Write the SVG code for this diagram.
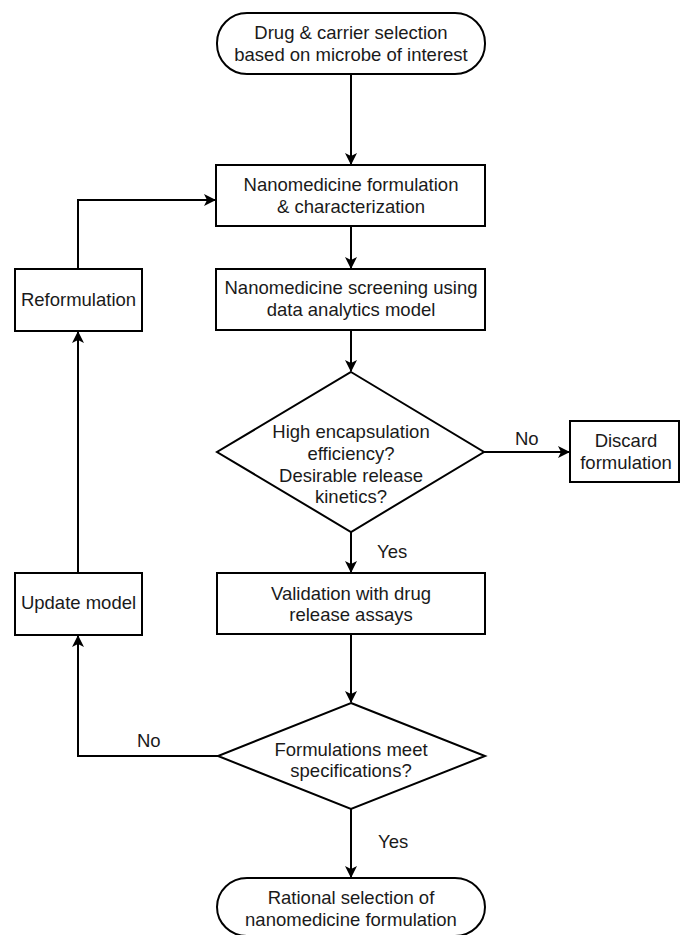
<svg xmlns="http://www.w3.org/2000/svg" width="681" height="935" viewBox="0 0 681 935">
<style>
.shape{fill:#fff;stroke:#000;stroke-width:2}
.t{font-family:"Liberation Sans",Arial,sans-serif;font-size:18.5px;fill:#1a1a1a;text-anchor:middle}
.lbl{font-family:"Liberation Sans",Arial,sans-serif;font-size:18.5px;fill:#1a1a1a}
.c{fill:none;stroke:#000;stroke-width:2}
</style>
<defs>
<marker id="arr" viewBox="0 0 12 12" refX="11" refY="6" markerWidth="12" markerHeight="12" markerUnits="userSpaceOnUse" orient="auto">
<path d="M0,0 L12,6 L0,12 L3,6 z" fill="#000"/>
</marker>
</defs>
<rect width="681" height="935" fill="#fff"/>
<g id="connectors">
<line class="c" x1="351" y1="74" x2="351" y2="164" marker-end="url(#arr)"/>
<line class="c" x1="351" y1="226" x2="351" y2="268" marker-end="url(#arr)"/>
<line class="c" x1="351" y1="330" x2="351" y2="371" marker-end="url(#arr)"/>
<line class="c" x1="351" y1="532" x2="351" y2="572" marker-end="url(#arr)"/>
<line class="c" x1="483" y1="452" x2="569" y2="452" marker-end="url(#arr)"/>
<line class="c" x1="351" y1="634" x2="351" y2="702" marker-end="url(#arr)"/>
<line class="c" x1="351" y1="809" x2="351" y2="877" marker-end="url(#arr)"/>
<polyline class="c" points="218,756 78,756 78,636" marker-end="url(#arr)"/>
<line class="c" x1="78" y1="573" x2="78" y2="332" marker-end="url(#arr)"/>
<polyline class="c" points="78,269 78,200 215,200" marker-end="url(#arr)"/>
<text class="lbl" x="377" y="558">Yes</text>
<text class="lbl" x="515" y="445">No</text>
<text class="lbl" x="378" y="848">Yes</text>
<text class="lbl" x="137" y="747">No</text>
</g>
<g id="start">
<rect class="shape" x="217" y="13" width="268" height="61" rx="30" ry="30"/>
<text class="t" x="351" y="39">Drug &amp; carrier selection</text>
<text class="t" x="351" y="61">based on microbe of interest</text>
</g>
<g id="formulation">
<rect class="shape" x="216" y="165" width="269" height="61"/>
<text class="t" x="351" y="191">Nanomedicine formulation</text>
<text class="t" x="351" y="213">&amp; characterization</text>
</g>
<g id="screening">
<rect class="shape" x="216" y="269" width="269" height="61"/>
<text class="t" x="351" y="293.5">Nanomedicine screening using</text>
<text class="t" x="351" y="315.5">data analytics model</text>
</g>
<g id="decision1">
<polygon class="shape" points="351,372 484,452 351,532 217,452"/>
<text class="t" x="351" y="438">High encapsulation</text>
<text class="t" x="351" y="460">efficiency?</text>
<text class="t" x="351" y="481.5">Desirable release</text>
<text class="t" x="351" y="503">kinetics?</text>
</g>
<g id="discard">
<rect class="shape" x="570" y="421" width="109" height="61"/>
<text class="t" x="626" y="447">Discard</text>
<text class="t" x="626" y="469">formulation</text>
</g>
<g id="validation">
<rect class="shape" x="217" y="573" width="268" height="61"/>
<text class="t" x="351" y="599.5">Validation with drug</text>
<text class="t" x="351" y="621">release assays</text>
</g>
<g id="decision2">
<polygon class="shape" points="351,703 485,756 351,809 218,756"/>
<text class="t" x="351" y="755.5">Formulations meet</text>
<text class="t" x="351" y="777">specifications?</text>
</g>
<g id="end">
<rect class="shape" x="217" y="878" width="268" height="58" rx="30" ry="30"/>
<text class="t" x="351" y="904">Rational selection of</text>
<text class="t" x="351" y="926">nanomedicine formulation</text>
</g>
<g id="reformulation">
<rect class="shape" x="15" y="269" width="127" height="62"/>
<text class="t" x="78.5" y="305.5">Reformulation</text>
</g>
<g id="update">
<rect class="shape" x="15" y="573" width="127" height="62"/>
<text class="t" x="78.5" y="609">Update model</text>
</g>
</svg>
